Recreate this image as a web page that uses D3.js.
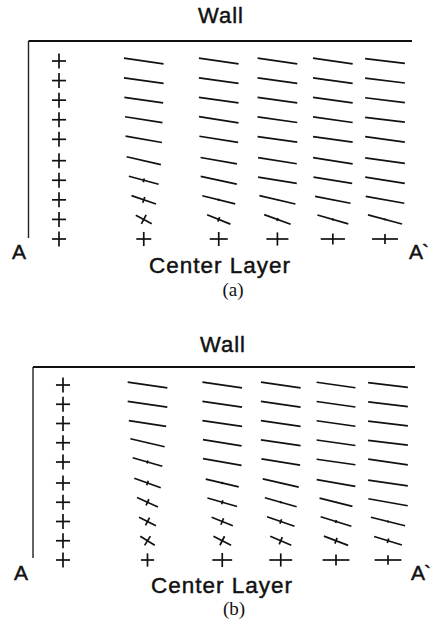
<!DOCTYPE html>
<html>
<head>
<meta charset="utf-8">
<script src="https://cdn.jsdelivr.net/npm/d3@7/dist/d3.min.js"></script>
<style>
  html, body { margin: 0; padding: 0; background: #fff; }
  svg { display: block; }
  .lbl { font-family: "Liberation Sans", Arial, Helvetica, sans-serif; fill: #111; stroke: #111; stroke-width: 0.45px; letter-spacing: 1px; }
  .end { letter-spacing: -1px; }
  .cap { font-family: "Liberation Serif", "Times New Roman", serif; fill: #111; }
</style>
</head>
<body>
<svg id="chart" width="434" height="631"></svg>
<script>
// Stations along the section A–A' (0 = A, 1 = A'), normalised
const stations = [0, 0.26, 0.49, 0.67, 0.84, 1.0];
// Normalised distance from the center layer (1 = wall, 0 = center layer)
const layers = [1.0, 0.89, 0.78, 0.67, 0.56, 0.44, 0.33, 0.22, 0.11, 0.0];

// Case (a): orientation angle of the principal axis (deg), one array per station
const angleA = [
  [0, 0, 0, 0, 0, 0, 0, 0, 0, 0],
  [8, 8, 8, 9, 10, 13, 15, 19, 28, 0],
  [8, 8, 8, 9, 9, 10, 12, 14, 22, 0],
  [8, 8, 8, 8, 8, 9, 9, 13, 20, 0],
  [8, 8, 8, 8, 8, 9, 9, 11, 16, 0],
  [7, 7, 7, 7, 8, 8, 9, 10, 15, 0]
];
// Case (a): principal (major) orientation component
const majorA = [
  [0.32, 0.32, 0.32, 0.32, 0.32, 0.32, 0.32, 0.32, 0.32, 0.32],
  [0.91, 0.91, 0.89, 0.86, 0.84, 0.80, 0.70, 0.59, 0.41, 0.34],
  [0.91, 0.91, 0.91, 0.91, 0.89, 0.84, 0.84, 0.77, 0.57, 0.41],
  [0.91, 0.91, 0.91, 0.91, 0.91, 0.89, 0.89, 0.84, 0.64, 0.50],
  [0.91, 0.91, 0.91, 0.91, 0.91, 0.91, 0.89, 0.82, 0.73, 0.55],
  [0.91, 0.91, 0.91, 0.91, 0.91, 0.91, 0.91, 0.89, 0.80, 0.59]
];
// Case (a): transverse (minor) orientation component
const minorA = [
  [0.34, 0.34, 0.34, 0.34, 0.34, 0.34, 0.34, 0.34, 0.34, 0.34],
  [0, 0, 0, 0, 0, 0.02, 0.09, 0.14, 0.23, 0.32],
  [0, 0, 0, 0, 0, 0, 0.02, 0.05, 0.11, 0.32],
  [0, 0, 0, 0, 0, 0, 0, 0.02, 0.07, 0.30],
  [0, 0, 0, 0, 0, 0, 0, 0.02, 0.05, 0.25],
  [0, 0, 0, 0, 0, 0, 0, 0, 0.04, 0.23]
];

// Case (b)
const angleB = [
  [0, 0, 0, 0, 0, 0, 0, 0, 0, 0],
  [8, 8, 9, 13, 16, 20, 24, 27, 32, 0],
  [8, 8, 8, 9, 10, 13, 16, 22, 27, 0],
  [8, 8, 8, 8, 9, 13, 16, 19, 23, 0],
  [8, 8, 8, 8, 8, 10, 14, 17, 21, 0],
  [7, 7, 7, 7, 8, 8, 10, 14, 17, 0]
];
const majorB = [
  [0.32, 0.32, 0.32, 0.32, 0.32, 0.32, 0.32, 0.32, 0.32, 0.32],
  [0.91, 0.91, 0.86, 0.80, 0.70, 0.64, 0.52, 0.43, 0.39, 0.30],
  [0.91, 0.91, 0.91, 0.89, 0.89, 0.77, 0.70, 0.52, 0.45, 0.45],
  [0.91, 0.91, 0.91, 0.91, 0.89, 0.84, 0.75, 0.66, 0.52, 0.52],
  [0.89, 0.89, 0.89, 0.89, 0.89, 0.89, 0.77, 0.73, 0.59, 0.61],
  [0.91, 0.91, 0.91, 0.91, 0.91, 0.91, 0.91, 0.80, 0.66, 0.61]
];
const minorB = [
  [0.34, 0.34, 0.34, 0.34, 0.34, 0.34, 0.34, 0.34, 0.34, 0.34],
  [0, 0, 0, 0.02, 0.07, 0.11, 0.16, 0.20, 0.25, 0.30],
  [0, 0, 0, 0, 0, 0.05, 0.09, 0.16, 0.23, 0.32],
  [0, 0, 0, 0, 0, 0.02, 0.05, 0.11, 0.18, 0.30],
  [0, 0, 0, 0, 0, 0, 0.03, 0.07, 0.14, 0.25],
  [0, 0, 0, 0, 0, 0, 0, 0.05, 0.11, 0.22]
];

const svg = d3.select("#chart");
svg.append("rect").attr("width", 434).attr("height", 631).attr("fill", "#fff");

// glyph arm length for an orientation component
const len = d3.scaleLinear().domain([0, 1]).range([0, 44]);

function panel(cfg) {
  const x = d3.scaleLinear().domain([0, 1]).range([cfg.x0, cfg.x1]);
  const y = d3.scaleLinear().domain([0, 1]).range([cfg.yBottom, cfg.yTop]);
  const g = svg.append("g");

  // wall (top) and side wall at A (left)
  g.append("line")
    .attr("x1", cfg.frameLeft).attr("x2", cfg.frameRight)
    .attr("y1", cfg.frameTop).attr("y2", cfg.frameTop)
    .attr("stroke", "#111").attr("stroke-width", 1.9);
  g.append("line")
    .attr("x1", cfg.frameLeft).attr("x2", cfg.frameLeft)
    .attr("y1", cfg.frameTop).attr("y2", cfg.frameBottom)
    .attr("stroke", "#222").attr("stroke-width", 1.4);

  const cells = [];
  stations.forEach((s, i) => {
    layers.forEach((l, j) => {
      cells.push({ s, l, ang: cfg.angle[i][j], a1: cfg.major[i][j], a2: cfg.minor[i][j] });
    });
  });

  // each glyph: principal axis along the angle, transverse axis perpendicular
  const glyph = g.selectAll("g.glyph").data(cells).join("g")
    .attr("class", "glyph")
    .attr("transform", d => `translate(${x(d.s)},${y(d.l)}) rotate(${d.ang})`);

  glyph.append("line")
    .attr("x1", d => -len(d.a1) / 2).attr("x2", d => len(d.a1) / 2)
    .attr("y1", 0).attr("y2", 0)
    .attr("stroke", "#111").attr("stroke-width", 1.7);
  glyph.filter(d => d.a2 > 0).append("line")
    .attr("x1", 0).attr("x2", 0)
    .attr("y1", d => -len(d.a2) / 2).attr("y2", d => len(d.a2) / 2)
    .attr("stroke", "#111").attr("stroke-width", 1.7);

  g.append("text").attr("class", "lbl").attr("x", cfg.wallX).attr("y", cfg.wallY)
    .attr("text-anchor", "middle").attr("font-size", 22).text("Wall");
  g.append("text").attr("class", "lbl").attr("x", cfg.aX).attr("y", cfg.aY)
    .attr("font-size", 21).text("A");
  g.append("text").attr("class", "lbl end").attr("x", cfg.a2X).attr("y", cfg.aY)
    .attr("font-size", 21).text("A`");
  g.append("text").attr("class", "lbl").attr("x", cfg.centerX).attr("y", cfg.centerY)
    .attr("text-anchor", "middle").attr("font-size", 22.5).text("Center Layer");
  g.append("text").attr("class", "cap").attr("x", cfg.capX).attr("y", cfg.capY)
    .attr("text-anchor", "middle").attr("font-size", 19).text(cfg.caption);
}

panel({
  angle: angleA, major: majorA, minor: minorA, caption: "(a)",
  x0: 59, x1: 385, yTop: 61, yBottom: 239,
  frameLeft: 28.5, frameRight: 412, frameTop: 41, frameBottom: 238,
  wallX: 221, wallY: 23, aX: 12, a2X: 409, aY: 259,
  centerX: 220, centerY: 273, capX: 233, capY: 296
});

panel({
  angle: angleB, major: majorB, minor: minorB, caption: "(b)",
  x0: 63, x1: 388, yTop: 385, yBottom: 560,
  frameLeft: 33, frameRight: 415, frameTop: 367, frameBottom: 558,
  wallX: 223, wallY: 352, aX: 14, a2X: 411, aY: 580,
  centerX: 222, centerY: 593, capX: 234, capY: 615
});
</script>
</body>
</html>
